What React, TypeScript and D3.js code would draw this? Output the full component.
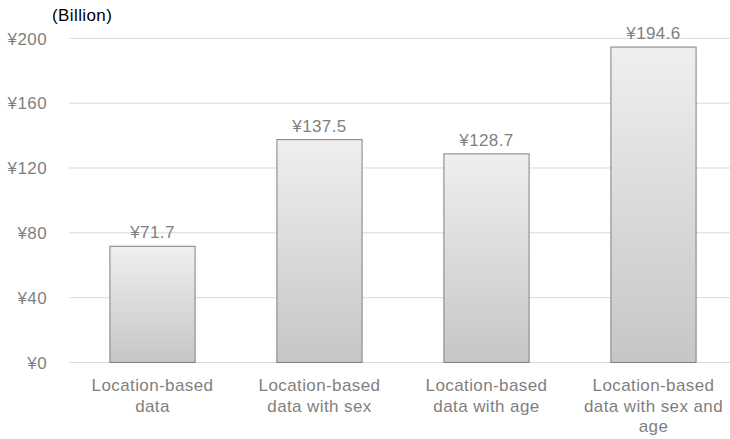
import React from "react";
import * as d3 from "d3";

const categories: string[][] = [
  ["Location-based", "data"],
  ["Location-based", "data with sex"],
  ["Location-based", "data with age"],
  ["Location-based", "data with sex and", "age"],
];
const values = [71.7, 137.5, 128.7, 194.6];
const yTicks = [0, 40, 80, 120, 160, 200];

export default function App() {
  const W = 730, H = 439;
  const left = 69, right = 737, top = 38.3, bottom = 362.5;
  const x = d3.scaleBand<number>().domain(d3.range(values.length)).range([left, right]).paddingInner(0.49).paddingOuter(0.245);
  const y = d3.scaleLinear().domain([0, 200]).range([bottom, top]);
  const font = "Liberation Sans, Arial, sans-serif";
  const ls = 0.4;
  return (
    <svg width={W} height={H} style={{ position: "absolute", left: 0, top: 0 }} fontFamily={font}>
      <defs>
        <linearGradient id="bg" x1="0" y1="0" x2="0" y2="1">
          <stop offset="0" stopColor="#efefef" />
          <stop offset="1" stopColor="#c6c6c6" />
        </linearGradient>
      </defs>
      <rect width={W} height={H} fill="#fff" />
      {yTicks.map((t) => (
        <g key={t}>
          <line x1={left} x2={W} y1={y(t)} y2={y(t)} stroke="#d9d9d9" strokeWidth={1} />
          <text x={47} y={y(t) + 6.3} textAnchor="end" fontSize={17} letterSpacing={ls} fill="#7f7f7f">
            {"¥" + t}
          </text>
        </g>
      ))}
      <text x={52} y={20.5} fontSize={17} letterSpacing={ls} fill="#000">(Billion)</text>
      {values.map((v, i) => {
        const bx = x(i)!;
        const bw = x.bandwidth();
        return (
          <g key={i}>
            <rect x={bx} y={y(v)} width={bw} height={y(0) - y(v)} fill="url(#bg)" stroke="#7f7f7f" strokeWidth={1} />
            <text x={bx + bw / 2} y={y(v) - 8} textAnchor="middle" fontSize={17} letterSpacing={ls} fill="#7f7f7f">
              {"¥" + v.toFixed(1)}
            </text>
            {categories[i].map((line, j) => (
              <text key={j} x={bx + bw / 2} y={391 + j * 20.5} textAnchor="middle" fontSize={17} letterSpacing={ls} fill="#7f7f7f">
                {line}
              </text>
            ))}
          </g>
        );
      })}
    </svg>
  );
}
